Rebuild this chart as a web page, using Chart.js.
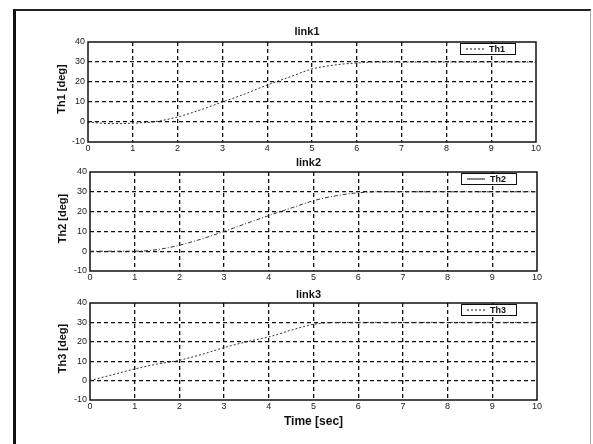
<!DOCTYPE html>
<html>
<head>
<meta charset="utf-8">
<script src="https://cdn.jsdelivr.net/npm/chart.js@4/dist/chart.umd.min.js"></script>
<style>
  html, body { margin: 0; padding: 0; background: #fff; }
  #page { position: relative; width: 593px; height: 444px; overflow: hidden; background: #fff; }
  #frame { position: absolute; left: 13px; top: 9px; width: 574px; height: 433px;
           border-left: 3px solid #111; border-top: 2px solid #222; border-right: 1px solid #aaa; }
  canvas { position: absolute; left: 0; }
</style>
</head>
<body>
<div id="page">
  <div id="frame"></div>
  <canvas id="c1" width="593" height="152" style="top:0px;width:593px;height:152px"></canvas>
  <canvas id="c2" width="593" height="136" style="top:152px;width:593px;height:136px"></canvas>
  <canvas id="c3" width="593" height="156" style="top:288px;width:593px;height:156px"></canvas>
</div>
<script>
// Joint angle histories (deg) sampled every 0.5 s
const time = [0, 0.5, 1, 1.5, 2, 2.5, 3, 3.5, 4, 4.5, 5, 5.5, 6, 6.5, 7, 7.5, 8, 8.5, 9, 9.5, 10];
const th1  = [0, -0.8, -0.6, 0.2, 2.5, 6, 10, 14, 18.5, 22.5, 26.5, 28.5, 29.5, 30, 30, 30, 30, 30, 30, 30, 30];
const th2  = [0, 0, 0, 0.8, 3, 6.2, 10, 14, 18, 21.8, 25.5, 28, 29.5, 30, 30, 30, 30, 30, 30, 30, 30];
const th3  = [0, 3, 6, 8.5, 10.5, 13.5, 17, 20, 22.5, 26, 29, 30, 30, 30, 30, 30, 30, 30, 30, 30, 30];

const xTicks = [0, 1, 2, 3, 4, 5, 6, 7, 8, 9, 10];
const yTicks = [-10, 0, 10, 20, 30, 40];

const FONT = '"Liberation Sans", Arial, Helvetica, sans-serif';

// Plot frame, subplot title, y label, optional x label and boxed legend
const figText = {
  id: 'figText',
  afterDraw(chart, args, o) {
    const { ctx, chartArea: a } = chart;
    const ds = chart.data.datasets[0];
    ctx.save();
    ctx.setLineDash([]);
    ctx.strokeStyle = '#111';
    ctx.lineWidth = 1.5;
    ctx.strokeRect(a.left, a.top, a.right - a.left, a.bottom - a.top);

    ctx.fillStyle = '#111';
    ctx.textAlign = 'center';
    ctx.textBaseline = 'middle';
    ctx.font = 'bold 11px ' + FONT;
    ctx.fillText(o.title, (a.left + a.right) / 2 - 5, a.top - o.titleGap);

    ctx.save();
    ctx.translate(o.ylabelX, (a.top + a.bottom) / 2 - 3);
    ctx.rotate(-Math.PI / 2);
    ctx.font = 'bold 11px ' + FONT;
    ctx.fillText(o.ylabel, 0, 0);
    ctx.restore();

    if (o.xlabel) {
      ctx.font = 'bold 12px ' + FONT;
      ctx.fillText(o.xlabel, (a.left + a.right) / 2, a.bottom + o.xlabelGap);
    }

    const lw = 55, lh = 11;
    const lx = a.right - 76, ly = a.top + 1;
    ctx.fillStyle = '#fff';
    ctx.fillRect(lx, ly, lw, lh);
    ctx.strokeStyle = '#111';
    ctx.lineWidth = 1;
    ctx.strokeRect(lx + 0.5, ly + 0.5, lw, lh);
    ctx.setLineDash(o.legendDash);
    ctx.beginPath();
    ctx.moveTo(lx + 6, ly + lh / 2 + 0.5);
    ctx.lineTo(lx + 24, ly + lh / 2 + 0.5);
    ctx.stroke();
    ctx.setLineDash([]);
    ctx.fillStyle = '#111';
    ctx.textAlign = 'left';
    ctx.font = 'bold 9px ' + FONT;
    ctx.fillText(ds.label, lx + 29, ly + lh / 2 + 1);
    ctx.restore();
  }
};

function makeChart(id, label, values, dash, cfg) {
  const pts = time.map((t, i) => ({ x: t, y: values[i] }));
  return new Chart(document.getElementById(id), {
    type: 'scatter',
    data: {
      datasets: [{
        label: label,
        data: pts,
        showLine: true,
        borderColor: '#333',
        borderWidth: 1,
        borderDash: dash,
        pointRadius: 0,
        cubicInterpolationMode: 'monotone',
        fill: false
      }]
    },
    options: {
      responsive: false,
      animation: false,
      layout: { padding: cfg.padding },
      plugins: {
        legend: { display: false },
        tooltip: { enabled: false },
        title: { display: false },
        figText: cfg.text
      },
      scales: {
        x: {
          type: 'linear',
          min: xTicks[0], max: xTicks[xTicks.length - 1],
          afterBuildTicks(s) { s.ticks = xTicks.map(v => ({ value: v })); },
          afterFit(s) { s.height = 10; },
          ticks: { color: '#222', font: { family: FONT, size: 9 }, padding: 1, maxRotation: 0, autoSkip: false },
          grid: {
            drawTicks: false,
            lineWidth: 1.3,
            color: c => (c.tick && (c.tick.value === 0 || c.tick.value === 10)) ? 'rgba(0,0,0,0)' : '#111'
          },
          border: { display: false, dash: [4, 3] }
        },
        y: {
          type: 'linear',
          min: yTicks[0], max: yTicks[yTicks.length - 1],
          afterBuildTicks(s) { s.ticks = yTicks.map(v => ({ value: v })); },
          afterFit(s) { s.width = cfg.yWidth; },
          ticks: { color: '#222', font: { family: FONT, size: 9 }, padding: 3, autoSkip: false },
          grid: {
            drawTicks: false,
            lineWidth: 1.3,
            color: c => (c.tick && (c.tick.value === -10 || c.tick.value === 40)) ? 'rgba(0,0,0,0)' : '#111'
          },
          border: { display: false, dash: [4, 3] }
        }
      }
    },
    plugins: [figText]
  });
}

makeChart('c1', 'Th1', th1, [2, 2], {
  yWidth: 88,
  padding: { left: 0, right: 57, top: 42, bottom: 0 },
  text: { title: 'link1', titleGap: 10, ylabel: 'Th1 [deg]', ylabelX: 62, legendDash: [2, 2] }
});
makeChart('c2', 'Th2', th2, [4, 2, 1, 2], {
  yWidth: 90,
  padding: { left: 0, right: 56, top: 20, bottom: 7 },
  text: { title: 'link2', titleGap: 9, ylabel: 'Th2 [deg]', ylabelX: 63, legendDash: [] }
});
makeChart('c3', 'Th3', th3, [2, 2], {
  yWidth: 90,
  padding: { left: 0, right: 56, top: 15, bottom: 34 },
  text: { title: 'link3', titleGap: 8, ylabel: 'Th3 [deg]', ylabelX: 63, legendDash: [2, 2],
          xlabel: 'Time [sec]', xlabelGap: 22 }
});
</script>
</body>
</html>
